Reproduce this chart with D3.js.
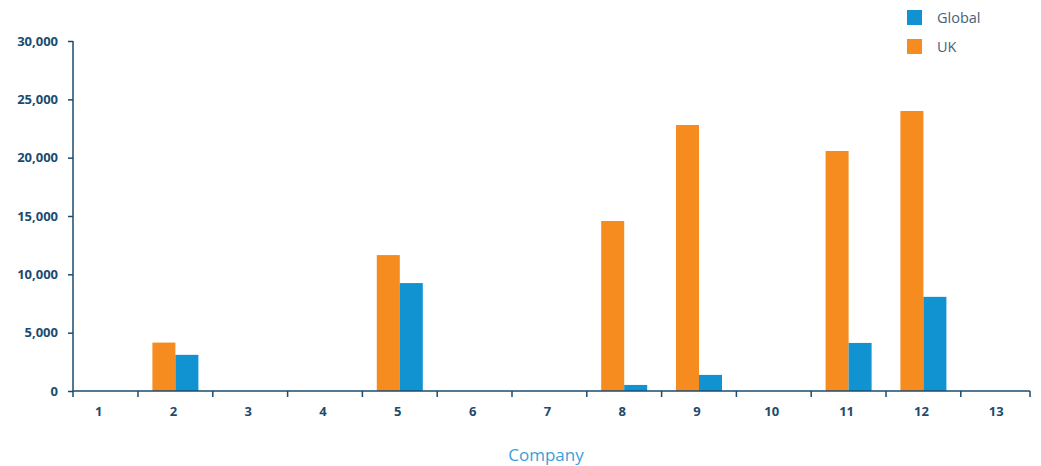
<!DOCTYPE html>
<html><head><meta charset="utf-8">
<script src="https://cdn.jsdelivr.net/npm/d3@7"></script>
<style>body{margin:0;background:#fff}</style>
</head><body>
<svg id="c" width="1041" height="466"></svg>
<script>
const companies = ["1","2","3","4","5","6","7","8","9","10","11","12","13"];
const ukValues     = [0, 4150, 0, 0, 11650, 0, 0, 14570, 22800, 0, 20570, 24000, 0];
const globalValues = [0, 3100, 0, 0, 9250, 0, 0, 520, 1380, 0, 4120, 8070, 0];
const yTicks = [0, 5000, 10000, 15000, 20000, 25000, 30000];
const seriesNames = ["UK", "Global"];
const legendNames = ["Global", "UK"];

const colors = {UK: "#F68B1F", Global: "#1193D2"};
const axisColor = "#1b4b6e";
const font = "'Open Sans', sans-serif";

const svg = d3.select("#c");
const y = d3.scaleLinear().domain([0, 30000]).range([391, 41]);
const x = d3.scaleBand().domain(companies).range([63.2, 1035.6]).paddingInner(0).paddingOuter(0);
const xs = d3.scaleBand().domain(seriesNames).range([0, 46]);
const axisLeft = 73, axisRight = 1030;

const data = companies.map((c, i) => ({c, UK: ukValues[i], Global: globalValues[i]}));

// bars
const g = svg.append("g");
data.forEach(d => {
  seriesNames.forEach(s => {
    if (d[s] > 0) {
      g.append("rect")
        .attr("x", x(d.c) + x.bandwidth()/2 - 23 + xs(s))
        .attr("y", y(d[s]))
        .attr("width", xs.bandwidth())
        .attr("height", y(0) - y(d[s]))
        .attr("fill", colors[s]);
    }
  });
});

// y axis
const ya = svg.append("g").attr("transform", `translate(${axisLeft},0)`)
  .call(d3.axisLeft(y).tickValues(yTicks).tickSize(5).tickPadding(10).tickFormat(d3.format(",")));
ya.select(".domain").attr("stroke", axisColor).attr("stroke-width", 1.5).attr("d", `M0,${y(30000)}V${y(0)}`);
ya.selectAll(".tick line").attr("stroke", axisColor).attr("stroke-width", 1.5);
ya.selectAll(".tick text").attr("fill", axisColor).style("font-family", font)
  .style("font-size", "13px").style("font-weight", "bold");

// x axis
const xa = svg.append("g").attr("transform", `translate(0,${y(0)})`);
xa.append("line").attr("x1", axisLeft).attr("x2", axisRight).attr("y1", 0).attr("y2", 0)
  .attr("stroke", axisColor).attr("stroke-width", 1.5);
const boundaries = companies.slice(1).map(c => x(c)).concat([axisRight]);
xa.selectAll("line.tk").data(boundaries).enter().append("line").attr("class","tk")
  .attr("x1", d => d).attr("x2", d => d).attr("y1", 0).attr("y2", 6)
  .attr("stroke", axisColor).attr("stroke-width", 1.5);
xa.append("line").attr("x1", axisLeft).attr("x2", axisLeft).attr("y1", 0).attr("y2", 6)
  .attr("stroke", axisColor).attr("stroke-width", 1.5);
xa.selectAll("text").data(companies).enter().append("text")
  .attr("x", d => x(d) + x.bandwidth()/2 - 2)
  .attr("y", 25)
  .attr("text-anchor", "middle")
  .attr("fill", axisColor).style("font-family", font)
  .style("font-size", "13px").style("font-weight", "bold")
  .text(d => d);

// x title
svg.append("text").attr("x", 546).attr("y", 461).attr("text-anchor", "middle")
  .attr("fill", "#3a9fd8").style("font-family", font).style("font-size", "17px")
  .text("Company");

// legend
const lg = svg.append("g");
legendNames.forEach((n, i) => {
  lg.append("rect").attr("x", 907).attr("y", 10 + i*29).attr("width", 15).attr("height", 15).attr("fill", colors[n]);
  lg.append("text").attr("x", 937).attr("y", 23 + i*29).attr("fill", "#46627a")
    .style("font-family", font).style("font-size", "14.5px").text(n);
});
</script>
</body></html>
